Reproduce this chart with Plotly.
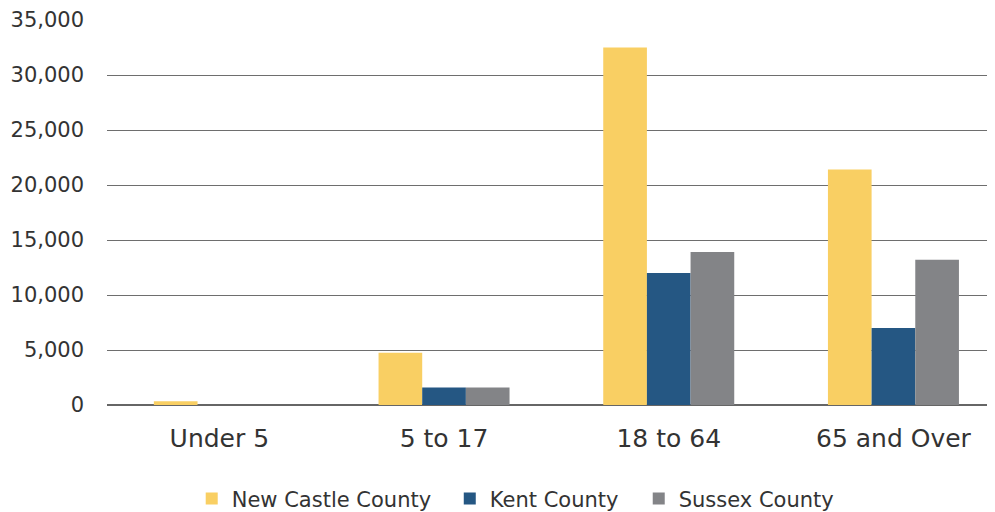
import plotly.graph_objects as go

categories = ["Under 5", "5 to 17", "18 to 64", "65 and Over"]
new_castle = [350, 4750, 32500, 21400]
kent = [0, 1600, 12000, 7000]
sussex = [0, 1600, 13900, 13200]

series_names = ["New Castle County", "Kent County", "Sussex County"]
series_values = [new_castle, kent, sussex]
series_colors = ["#F9CF63", "#255783", "#838487"]
legend_ids = ["legend", "legend2", "legend3"]
legend_x = [0.0954, 0.386, 0.5988]

fig = go.Figure()
for name, vals, col, lg in zip(series_names, series_values, series_colors, legend_ids):
    fig.add_trace(go.Bar(x=categories, y=vals, name=name, marker_color=col,
                         marker_line_width=0, legend=lg))

font_family = "'DejaVu Sans', sans-serif"
legend_common = dict(orientation="h", xanchor="left", y=-0.244, yanchor="middle",
                     font=dict(size=21, color="#333333"), itemwidth=30,
                     bgcolor="rgba(0,0,0,0)")
fig.update_layout(
    width=995, height=512,
    margin=dict(l=99, r=8, t=12, b=115, autoexpand=False),
    plot_bgcolor="white", paper_bgcolor="white",
    barmode="group", bargap=0.417, bargroupgap=0,
    font=dict(family=font_family, color="#333333"),
    showlegend=True,
    legend=dict(x=legend_x[0], **legend_common),
    legend2=dict(x=legend_x[1], **legend_common),
    legend3=dict(x=legend_x[2], **legend_common),
    xaxis=dict(range=[-0.5, 3.452], showgrid=False, showline=False, ticks="",
               automargin=False,
               tickfont=dict(size=25, color="#333333"), ticklabelstandoff=16),
    yaxis=dict(range=[0, 35000], dtick=5000, tickformat=",", showgrid=True,
               automargin=False,
               gridcolor="#6e6e6e", gridwidth=1, zeroline=True, zerolinecolor="#666666",
               zerolinewidth=2, showline=False, ticks="",
               tickfont=dict(size=21, color="#333333"), ticklabelstandoff=22),
)

fig.write_html("out.html")
